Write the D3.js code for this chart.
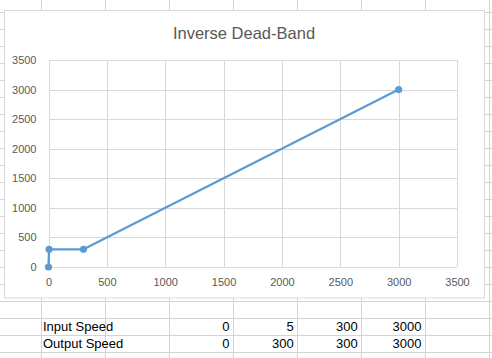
<!DOCTYPE html>
<html>
<head>
<meta charset="utf-8">
<script src="https://cdn.jsdelivr.net/npm/d3@7"></script>
<style>
  html, body { margin: 0; padding: 0; background: #fff; }
  svg { display: block; }
</style>
</head>
<body>
<svg id="c" width="492" height="358"></svg>
<script>
const chartTitle = "Inverse Dead-Band";
const inputSpeed = [0, 5, 300, 3000];
const outputSpeed = [0, 300, 300, 3000];
const xTicks = [0, 500, 1000, 1500, 2000, 2500, 3000, 3500];
const yTicks = [0, 500, 1000, 1500, 2000, 2500, 3000, 3500];
const rowLabels = ["Input Speed", "Output Speed"];

const svg = d3.select("#c");
const W = 492, H = 358;

// spreadsheet grid
const colLines = [40.7, 104.7, 168.5, 232.5, 296.7, 360.7, 424.5, 488.7];
const rowTop = 11.7, rowH = 17;
const sheet = svg.append("g").attr("shape-rendering", "crispEdges");
for (let k = 0; rowTop + k * rowH < H; k++) {
  const yy = Math.round(rowTop + k * rowH) + 0.5;
  sheet.append("line").attr("x1", 0).attr("x2", W).attr("y1", yy).attr("y2", yy)
    .attr("stroke", "#d4d4d4");
}
colLines.forEach(cx => {
  const xx = Math.round(cx) + 0.5;
  sheet.append("line").attr("x1", xx).attr("x2", xx).attr("y1", 0).attr("y2", H)
    .attr("stroke", "#d4d4d4");
});

// cell contents
const cellFont = "'Liberation Sans', Arial, sans-serif";
const dataRows = [inputSpeed, outputSpeed];
dataRows.forEach((vals, r) => {
  const base = 330.7 + r * rowH;
  svg.append("text").attr("x", 43).attr("y", base)
    .attr("font-family", cellFont).attr("font-size", 13).attr("fill", "#000")
    .text(rowLabels[r]);
  vals.forEach((v, i) => {
    svg.append("text").attr("x", colLines[i + 3] - 3).attr("y", base)
      .attr("text-anchor", "end")
      .attr("font-family", cellFont).attr("font-size", 13).attr("fill", "#000")
      .text(v);
  });
});

// chart box
svg.append("rect").attr("x", 4.5).attr("y", 10.5).attr("width", 480).attr("height", 287.5)
  .attr("fill", "#fff").attr("stroke", "#d9d9d9").attr("stroke-width", 1);

svg.append("text").attr("x", 244).attr("y", 39)
  .attr("text-anchor", "middle")
  .attr("font-family", "'Liberation Sans', Arial, sans-serif")
  .attr("font-size", 16.5).attr("fill", "#595959")
  .text(chartTitle);

const pLeft = 48.5, pRight = 457, pTop = 60, pBottom = 267;
const xS = d3.scaleLinear().domain([0, 3500]).range([pLeft, pRight]);
const yS = d3.scaleLinear().domain([0, 3500]).range([pBottom, pTop]);

// gridlines
const grid = svg.append("g").attr("shape-rendering", "crispEdges");
grid.selectAll(".gx").data(xTicks).join("line")
  .attr("x1", d => Math.round(xS(d)) + 0.5).attr("x2", d => Math.round(xS(d)) + 0.5)
  .attr("y1", pTop).attr("y2", pBottom)
  .attr("stroke", "#d9d9d9");
grid.selectAll(".gy").data(yTicks).join("line")
  .attr("y1", d => Math.round(yS(d)) + 0.5).attr("y2", d => Math.round(yS(d)) + 0.5)
  .attr("x1", pLeft).attr("x2", pRight)
  .attr("stroke", "#d9d9d9");

const tickFont = "'Liberation Sans', Arial, sans-serif";
const xAxis = svg.append("g").attr("transform", `translate(0,${pBottom})`)
  .call(d3.axisBottom(xS).tickValues(xTicks).tickSize(0).tickPadding(11).tickFormat(d3.format("d")));
const yAxis = svg.append("g").attr("transform", `translate(${pLeft},0)`)
  .call(d3.axisLeft(yS).tickValues(yTicks).tickSize(0).tickPadding(12).tickFormat(d3.format("d")));
[xAxis, yAxis].forEach(a => {
  a.select(".domain").remove();
  a.selectAll("text").attr("font-family", tickFont).attr("font-size", 11).attr("fill", "#595959");
});

// series
const pts = inputSpeed.map((v, i) => [v, outputSpeed[i]]);
svg.append("path").datum(pts)
  .attr("d", d3.line().x(d => xS(d[0])).y(d => yS(d[1])))
  .attr("fill", "none").attr("stroke", "#5b9bd5").attr("stroke-width", 2.25)
  .attr("stroke-linejoin", "round").attr("stroke-linecap", "round");
svg.selectAll(".pt").data(pts).join("circle")
  .attr("cx", d => xS(d[0])).attr("cy", d => yS(d[1])).attr("r", 3.6)
  .attr("fill", "#5b9bd5");
</script>
</body>
</html>
